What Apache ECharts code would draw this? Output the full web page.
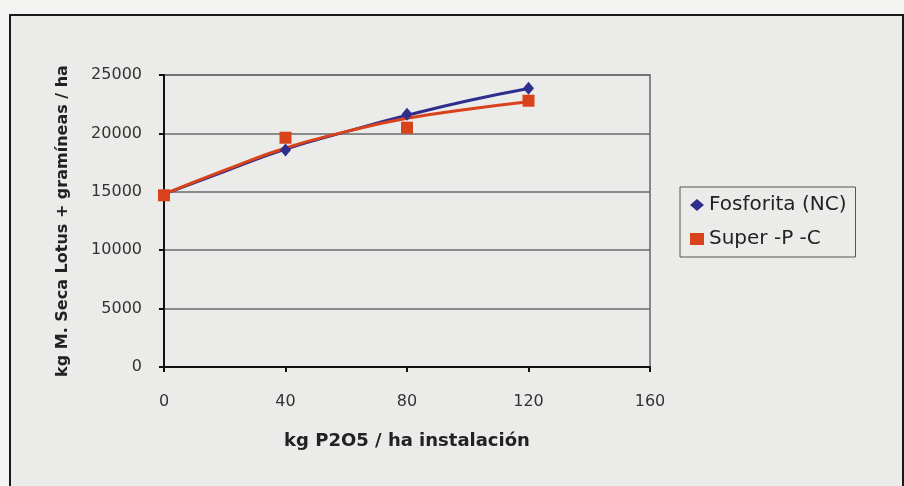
<!DOCTYPE html>
<html>
<head>
<meta charset="utf-8">
<script src="https://cdn.jsdelivr.net/npm/echarts@6/dist/echarts.min.js"></script>
<style>
html,body{margin:0;padding:0;background:#f4f4f2;}
#c{width:904px;height:486px;}
</style>
</head>
<body>
<div id="c"></div>
<script>
// Data
var xPoints = [0, 40, 80, 120];
var fosforitaPts = [14750, 18580, 21630, 23860];
var superPts = [14700, 19630, 20490, 22800];

var trendX = [0, 20, 40, 60, 80, 100, 120];
var fosforitaTrend = [14800, 16750, 18650, 20150, 21550, 22800, 23850];
var superTrend = [14800, 16850, 18750, 20150, 21290, 22060, 22700];

var seriesNames = ['Fosforita (NC)', 'Super -P -C'];
var xAxisName = 'kg P2O5 / ha instalación';
var yAxisName = 'kg M. Seca Lotus + gramíneas / ha';

function pairs(xs, ys) { return xs.map(function (x, i) { return [x, ys[i]]; }); }

var BLUE = '#2e2e8c';
var RED = '#d8431c';
var FONT = 'DejaVu Sans';

var chart = echarts.init(document.getElementById('c'), null, {renderer: 'canvas'});
chart.setOption({
  backgroundColor: '#f4f4f2',
  animation: false,
  graphic: [{
    type: 'rect', z: -10, silent: true,
    shape: {x: 10, y: 15, width: 893, height: 500},
    style: {fill: '#ebebe9', stroke: '#1a1a1a', lineWidth: 2}
  }],
  grid: {left: 164, right: 254, top: 75, bottom: 119, show: true,
         borderColor: '#666', borderWidth: 1.5, backgroundColor: 'transparent'},
  legend: {
    orient: 'vertical', left: 680, top: 187,
    padding: [8, 9, 8, 10], itemGap: 14, itemWidth: 14, itemHeight: 12,
    borderColor: '#555', borderWidth: 1, backgroundColor: '#ebebe9',
    textStyle: {fontFamily: FONT, fontSize: 20, color: '#222'},
    data: [{name: seriesNames[0], icon: 'diamond'}, {name: seriesNames[1], icon: 'rect'}]
  },
  xAxis: {
    type: 'value', min: 0, max: 160, interval: 40,
    name: xAxisName, nameLocation: 'middle', nameGap: 65,
    nameTextStyle: {fontFamily: FONT, fontSize: 18, fontWeight: 'bold', color: '#222'},
    axisLine: {lineStyle: {color: '#111', width: 2}},
    axisTick: {show: true, length: 5, lineStyle: {color: '#111', width: 2}},
    axisLabel: {fontFamily: FONT, fontSize: 16, color: '#333', margin: 27},
    splitLine: {show: false}
  },
  yAxis: {
    type: 'value', min: 0, max: 25000, interval: 5000,
    name: yAxisName, nameLocation: 'middle', nameGap: 93,
    nameTextStyle: {fontFamily: FONT, fontSize: 16, fontWeight: 'bold', color: '#222'},
    axisLine: {show: true, lineStyle: {color: '#111', width: 2}},
    axisTick: {show: true, length: 5, lineStyle: {color: '#111', width: 2}},
    axisLabel: {fontFamily: FONT, fontSize: 16, color: '#333', margin: 22,
                formatter: function (v) { return String(v); }},
    splitLine: {show: true, lineStyle: {color: '#6a6a6a', width: 1.5}}
  },
  series: [
    {name: seriesNames[0] + ' trend', type: 'line', smooth: true, showSymbol: false,
     data: pairs(trendX, fosforitaTrend), lineStyle: {color: BLUE, width: 3}, z: 2},
    {name: seriesNames[1] + ' trend', type: 'line', smooth: true, showSymbol: false,
     data: pairs(trendX, superTrend), lineStyle: {color: RED, width: 3}, z: 3},
    {name: seriesNames[0], type: 'scatter', symbol: 'diamond', symbolSize: [11, 13],
     data: pairs(xPoints, fosforitaPts), itemStyle: {color: BLUE, opacity: 1}, z: 4},
    {name: seriesNames[1], type: 'scatter', symbol: 'rect', symbolSize: 12,
     data: pairs(xPoints, superPts), itemStyle: {color: RED, opacity: 1}, z: 5}
  ]
});
</script>
</body>
</html>
